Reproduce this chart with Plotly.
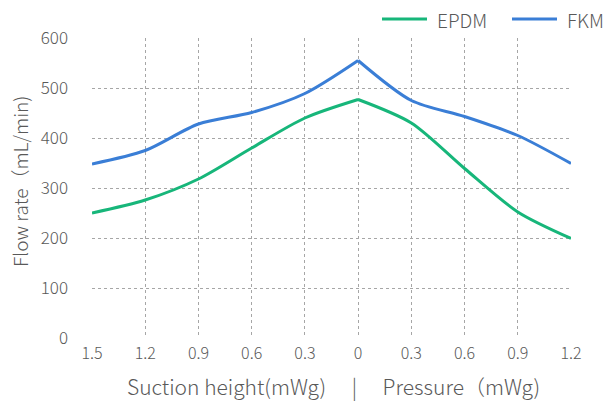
import plotly.graph_objects as go

tick_labels = ["1.5", "1.2", "0.9", "0.6", "0.3", "0", "0.3", "0.6", "0.9", "1.2"]
epdm = [250, 276, 318, 380, 440, 477, 430, 339, 252, 199]
fkm = [348, 375, 428, 451, 489, 555, 475, 443, 405, 349]
series_names = ["EPDM", "FKM"]
x_title = "Suction height(mWg)\u3000 |\u3000 Pressure（mWg)"
y_title = "Flow rate（mL/min)"
peak = 5  # index of the 0 point (suction | pressure)

xs = list(range(len(tick_labels)))
GREEN = "#17B67A"
BLUE = "#3A7ED6"
FONT = "Noto Sans CJK SC"
TXT = "#595959"
W, H = 609, 403
# plot area in window pixels: x 92..571, y 38..338
L, T = 92, 38
R, B = W - 571, H - 338
pw, ph = W - L - R, H - T - B

fig = go.Figure()
for name, vals, col in [(series_names[0], epdm, GREEN), (series_names[1], fkm, BLUE)]:
    fig.add_trace(go.Scatter(x=xs[:peak + 1], y=vals[:peak + 1], mode="lines", name=name,
                             legendgroup=name, showlegend=False, hoverinfo="skip",
                             line=dict(color=col, width=3, shape="spline", smoothing=0.8)))
    fig.add_trace(go.Scatter(x=xs[peak:], y=vals[peak:], mode="lines", name=name,
                             legendgroup=name, showlegend=False, hoverinfo="skip",
                             line=dict(color=col, width=3, shape="spline", smoothing=0.8)))


def px_x(p):  # window pixel -> paper fraction
    return (p - L) / pw


def px_y(p):
    return (H - B - p) / ph


# custom legend (line sample + label)
legend_items = [(series_names[0], GREEN, 382, 427, 435), (series_names[1], BLUE, 512, 557, 565)]
for name, col, x0, x1, tx in legend_items:
    fig.add_shape(type="line", xref="paper", yref="paper",
                  x0=px_x(x0), x1=px_x(x1), y0=px_y(19), y1=px_y(19),
                  line=dict(color=col, width=3))
    fig.add_annotation(text=name, xref="paper", yref="paper", x=px_x(tx), y=px_y(19),
                       xanchor="left", yanchor="middle", showarrow=False,
                       font=dict(size=19, family=FONT, color=TXT, weight=300))

# axis titles
fig.add_annotation(text=x_title, xref="paper", yref="paper", x=px_x(333), y=px_y(386),
                   xanchor="center", yanchor="middle", showarrow=False,
                   font=dict(size=21, family=FONT, color=TXT, weight=300))
fig.add_annotation(text=y_title, xref="paper", yref="paper", x=px_x(19), y=px_y(182),
                   xanchor="center", yanchor="middle", showarrow=False, textangle=-90,
                   font=dict(size=19, family=FONT, color=TXT, weight=300))

grid = dict(showgrid=True, gridcolor="#A6A6A6", griddash="dot", gridwidth=1,
            zeroline=False, showline=False, automargin=False)
fig.update_layout(
    width=W, height=H,
    margin=dict(l=L, r=R, t=T, b=B),
    paper_bgcolor="white", plot_bgcolor="white",
    font=dict(family=FONT, color=TXT, size=17, weight=300),
    showlegend=False,
    xaxis=dict(range=[0, len(xs) - 1], tickmode="array", tickvals=xs, ticktext=tick_labels,
               ticks="", tickfont=dict(size=16), ticklabelstandoff=4, **grid),
    yaxis=dict(range=[0, 600], dtick=100, ticks="", tickfont=dict(size=17),
               ticklabelstandoff=23, **grid),
)
fig.write_html("out.html", config={"displayModeBar": False},
               post_script="document.body.style.margin='0';")
